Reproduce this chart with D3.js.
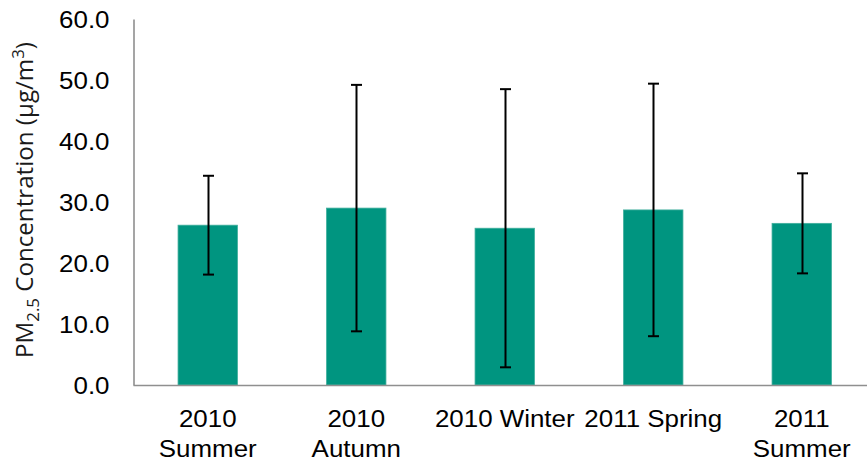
<!DOCTYPE html>
<html>
<head>
<meta charset="utf-8">
<script src="https://cdn.jsdelivr.net/npm/d3@7"></script>
<style>
  html, body { margin: 0; padding: 0; background: #fff; }
  svg { display: block; }
</style>
</head>
<body>
<svg id="chart" width="867" height="463"></svg>
<script>
// Seasonal PM2.5 means with ±1 SD error bars
const categories = ["2010 Summer", "2010 Autumn", "2010 Winter", "2011 Spring", "2011 Summer"];
const categoryLines = [["2010", "Summer"], ["2010", "Autumn"], ["2010 Winter"], ["2011 Spring"], ["2011", "Summer"]];
const means = [26.2, 29.0, 25.7, 28.7, 26.5];
const sds = [8.1, 20.2, 22.8, 20.7, 8.2];
const yTicks = [0, 10, 20, 30, 40, 50, 60];

const svg = d3.select("#chart");
const textFont = "'Liberation Sans', Arial, sans-serif";
const stretch = 1.08;

const x = d3.scaleBand()
  .domain(categories)
  .range([133.5, 876])
  .paddingInner(0.6)
  .paddingOuter(0.3);

const y = d3.scaleLinear().domain([0, 60]).range([385, 19]);

// bars
svg.append("g").selectAll("rect")
  .data(categories)
  .join("rect")
  .attr("x", d => x(d))
  .attr("y", (d, i) => y(means[i]))
  .attr("width", x.bandwidth())
  .attr("height", (d, i) => y(0) - y(means[i]))
  .attr("fill", "#009580")
  .attr("stroke", "#3fae9c")
  .attr("stroke-width", 0.8);

// error bars
const capHalf = 5.5;
const eb = svg.append("g").attr("stroke", "#000").attr("stroke-width", 2);
categories.forEach((c, i) => {
  const cx = Math.round(x(c) + x.bandwidth() / 2) + 0.5;
  const hi = y(means[i] + sds[i]), lo = y(means[i] - sds[i]);
  eb.append("line").attr("x1", cx).attr("x2", cx).attr("y1", hi).attr("y2", lo);
  eb.append("line").attr("x1", cx - capHalf).attr("x2", cx + capHalf).attr("y1", hi).attr("y2", hi);
  eb.append("line").attr("x1", cx - capHalf).attr("x2", cx + capHalf).attr("y1", lo).attr("y2", lo);
});

// y axis
const yAxis = svg.append("g")
  .attr("transform", "translate(133.5,0)")
  .call(d3.axisLeft(y).tickValues(yTicks).tickFormat(d3.format(".1f")).tickSize(0).tickPadding(24));
yAxis.select(".domain").attr("stroke", "#8f8f8f").attr("stroke-width", 1.6);
yAxis.selectAll(".tick text")
  .attr("font-family", textFont)
  .attr("font-size", 24)
  .attr("fill", "#000")
  .attr("dy", "0.36em")
  .attr("x", null)
  .attr("transform", `translate(-24,0) scale(${stretch},1)`);

// x baseline
svg.append("line")
  .attr("x1", 133.5).attr("x2", 876)
  .attr("y1", y(0) + 0.5).attr("y2", y(0) + 0.5)
  .attr("stroke", "#8f8f8f").attr("stroke-width", 1.6);

// category labels
const xl = svg.append("g");
categories.forEach((c, i) => {
  const cx = x(c) + x.bandwidth() / 2;
  const t = xl.append("text")
    .attr("transform", `translate(${cx},427) scale(${stretch},1)`)
    .attr("text-anchor", "middle")
    .attr("font-family", textFont)
    .attr("font-size", 24)
    .attr("fill", "#000");
  categoryLines[i].forEach((line, k) => {
    t.append("tspan").attr("x", 0).attr("y", k * 30).text(line);
  });
});

// y axis title
const yt = svg.append("text")
  .attr("transform", "translate(33,200) rotate(-90) scale(1.05,1)")
  .attr("text-anchor", "middle")
  .attr("font-family", "'Open Sans', 'Noto Sans', sans-serif")
  .attr("font-size", 23)
  .attr("fill", "#1a1a1a");
yt.append("tspan").text("PM");
yt.append("tspan").attr("font-size", 16).attr("dy", 6).text("2.5");
yt.append("tspan").attr("dy", -6).text(" Concentration (μg/m");
yt.append("tspan").attr("font-size", 16).attr("dy", -9).text("3");
yt.append("tspan").attr("dy", 9).text(")");
</script>
</body>
</html>
